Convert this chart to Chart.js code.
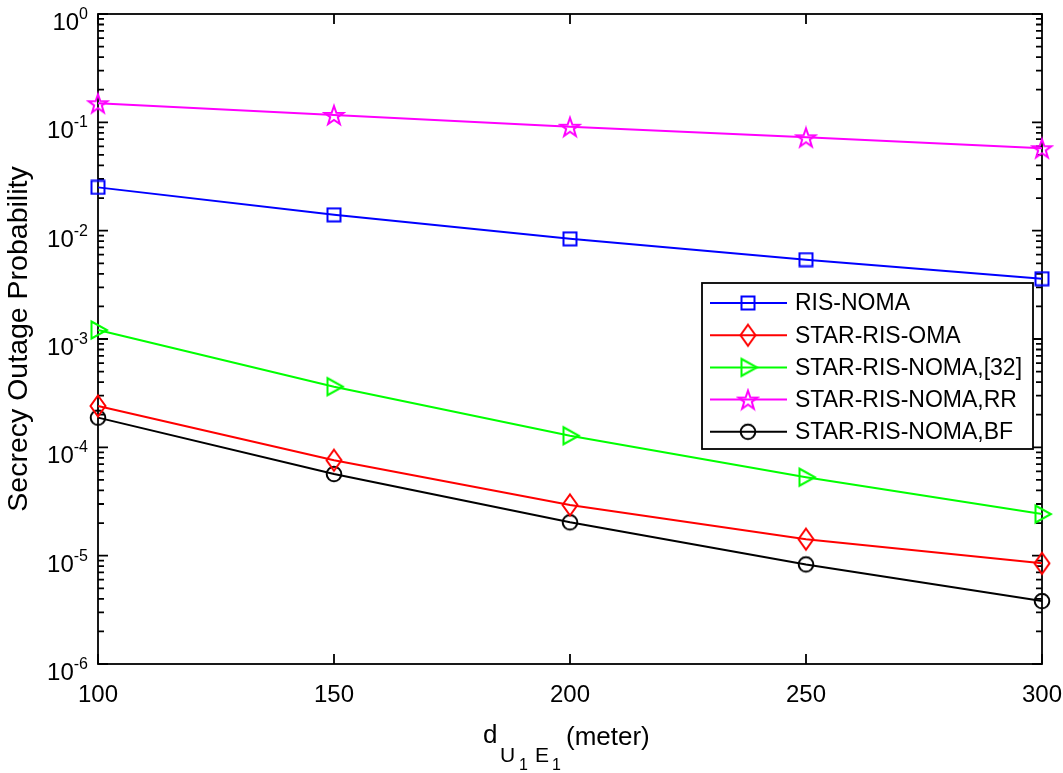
<!DOCTYPE html>
<html>
<head>
<meta charset="utf-8">
<script src="https://cdn.jsdelivr.net/npm/chart.js@4/dist/chart.umd.min.js"></script>
<style>
  html, body { margin: 0; padding: 0; background: #fff; }
  #wrap { width: 1063px; height: 773px; position: relative; }
</style>
</head>
<body>
<div id="wrap"><canvas id="chart" width="1063" height="773"></canvas></div>
<script>
// Данные
const distances = [100, 150, 200, 250, 300];
const risNoma = [0.0251, 0.0140, 0.0084, 0.0054, 0.0036];
const starRisOma = [2.41e-4, 7.6e-5, 2.94e-5, 1.42e-5, 8.5e-6];
const starRisNoma32 = [1.21e-3, 3.63e-4, 1.28e-4, 5.3e-5, 2.42e-5];
const starRisNomaRR = [0.150, 0.117, 0.091, 0.0727, 0.0576];
const starRisNomaBF = [1.88e-4, 5.67e-5, 2.03e-5, 8.3e-6, 3.81e-6];

const seriesNames = ['RIS-NOMA', 'STAR-RIS-OMA', 'STAR-RIS-NOMA,[32]', 'STAR-RIS-NOMA,RR', 'STAR-RIS-NOMA,BF'];
const xTicks = [100, 150, 200, 250, 300];
const yExponents = [0, -1, -2, -3, -4, -5, -6];

const FONT = '"Liberation Sans", Arial, Helvetica, sans-serif';

// Маркеры в стиле MATLAB
function makeMarker(color, w, h, draw) {
    const c = document.createElement('canvas');
    c.width = w; c.height = h;
    const g = c.getContext('2d');
    g.strokeStyle = color;
    g.lineWidth = 2;
    g.lineJoin = 'miter';
    g.beginPath();
    draw(g, w / 2, h / 2);
    g.closePath();
    g.stroke();
    return c;
}

const squareMarker = makeMarker('#0000ff', 16, 16, (g, cx, cy) => {
    g.rect(cx - 6.5, cy - 6.5, 13, 13);
});
const diamondMarker = makeMarker('#ff0000', 20, 26, (g, cx, cy) => {
    g.moveTo(cx, cy - 10.5);
    g.lineTo(cx + 7.5, cy);
    g.lineTo(cx, cy + 10.5);
    g.lineTo(cx - 7.5, cy);
});
const triangleMarker = makeMarker('#00ff00', 22, 22, (g, cx, cy) => {
    g.moveTo(cx - 6.5, cy - 8.5);
    g.lineTo(cx + 9, cy);
    g.lineTo(cx - 6.5, cy + 8.5);
});
const starMarker = makeMarker('#ff00ff', 24, 24, (g, cx, cy) => {
    const R = 10, r = 4;
    for (let i = 0; i < 10; i++) {
        const rad = i % 2 === 0 ? R : r;
        const a = -Math.PI / 2 + i * Math.PI / 5;
        const px = cx + rad * Math.cos(a);
        const py = cy + 1 + rad * Math.sin(a);
        if (i === 0) g.moveTo(px, py); else g.lineTo(px, py);
    }
});
const circleMarker = makeMarker('#000000', 20, 20, (g, cx, cy) => {
    g.arc(cx, cy, 7.3, 0, Math.PI * 2);
});

function toPoints(values) {
    return distances.map((d, i) => ({ x: d, y: values[i] }));
}

function makeDataset(label, values, color, marker) {
    return {
        label: label,
        data: toPoints(values),
        borderColor: color,
        backgroundColor: color,
        borderWidth: 2,
        pointStyle: marker,
        pointRadius: 8,
        tension: 0,
        clip: false
    };
}

const datasets = [
    makeDataset(seriesNames[0], risNoma, '#0000ff', squareMarker),
    makeDataset(seriesNames[1], starRisOma, '#ff0000', diamondMarker),
    makeDataset(seriesNames[2], starRisNoma32, '#00ff00', triangleMarker),
    makeDataset(seriesNames[3], starRisNomaRR, '#ff00ff', starMarker),
    makeDataset(seriesNames[4], starRisNomaBF, '#000000', circleMarker)
];

// Оси, засечки и подписи как в MATLAB
const axesPlugin = {
    id: 'matlabAxes',
    beforeDatasetsDraw(chart) {
        const { ctx, chartArea: a, scales } = chart;
        const xs = scales.x, ys = scales.y;
        ctx.save();
        ctx.strokeStyle = '#000';
        ctx.lineWidth = 1.8;

        // Засечки по X (снизу и сверху)
        ctx.beginPath();
        xTicks.forEach(t => {
            const px = xs.getPixelForValue(t);
            ctx.moveTo(px, a.bottom); ctx.lineTo(px, a.bottom - 10);
            ctx.moveTo(px, a.top); ctx.lineTo(px, a.top + 10);
        });
        // Засечки по Y (слева и справа)
        yExponents.forEach(e => {
            const py = ys.getPixelForValue(Math.pow(10, e));
            ctx.moveTo(a.left, py); ctx.lineTo(a.left + 10, py);
            ctx.moveTo(a.right, py); ctx.lineTo(a.right - 10, py);
            if (e > -6) {
                for (let m = 2; m <= 9; m++) {
                    const my = ys.getPixelForValue(m * Math.pow(10, e - 1));
                    ctx.moveTo(a.left, my); ctx.lineTo(a.left + 6, my);
                    ctx.moveTo(a.right, my); ctx.lineTo(a.right - 6, my);
                }
            }
        });
        ctx.stroke();

        // Рамка
        ctx.strokeRect(a.left, a.top, a.right - a.left, a.bottom - a.top);

        // Подписи X
        ctx.fillStyle = '#000';
        ctx.font = '24px ' + FONT;
        ctx.textAlign = 'center';
        ctx.textBaseline = 'alphabetic';
        xTicks.forEach(t => {
            ctx.fillText(String(t), xs.getPixelForValue(t), a.bottom + 38);
        });

        // Подписи Y: 10^e
        yExponents.forEach(e => {
            const py = ys.getPixelForValue(Math.pow(10, e));
            const exp = String(e);
            ctx.font = '16px ' + FONT;
            const w2 = ctx.measureText(exp).width;
            ctx.textAlign = 'left';
            ctx.fillText(exp, 88 - w2, py + 5);
            ctx.font = '24px ' + FONT;
            ctx.textAlign = 'right';
            ctx.fillText('10', 88 - w2, py + 16);
        });

        // Подпись оси Y
        ctx.save();
        ctx.translate(27, (a.top + a.bottom) / 2);
        ctx.rotate(-Math.PI / 2);
        ctx.textAlign = 'center';
        ctx.font = '28.5px ' + FONT;
        ctx.fillText('Secrecy Outage Probability', 0, 0);
        ctx.restore();

        // Подпись оси X: d_{U_1 E_1}(meter)
        const cx = (a.left + a.right) / 2;
        const parts = [
            { t: 'd', size: 26, dx: -87, y: 743 },
            { t: 'U', size: 21, dx: -70, y: 762 },
            { t: '1', size: 16, dx: -51, y: 770 },
            { t: 'E', size: 21, dx: -35, y: 762 },
            { t: '1', size: 16, dx: -18, y: 770 },
            { t: '(meter)', size: 26, dx: -4, y: 745 }
        ];
        ctx.textAlign = 'left';
        parts.forEach(p => {
            ctx.font = p.size + 'px ' + FONT;
            ctx.fillText(p.t, cx + p.dx, p.y);
        });
        ctx.restore();
    },
    afterDraw(chart) {
        // Легенда внутри области графика
        const { ctx } = chart;
        const box = { x: 702, y: 283, w: 331, h: 166 };
        ctx.save();
        ctx.fillStyle = '#fff';
        ctx.fillRect(box.x, box.y, box.w, box.h);
        ctx.strokeStyle = '#000';
        ctx.lineWidth = 1.8;
        ctx.strokeRect(box.x, box.y, box.w, box.h);
        ctx.font = '23px ' + FONT;
        ctx.textBaseline = 'middle';
        ctx.textAlign = 'left';
        chart.data.datasets.forEach((ds, i) => {
            const cy = box.y + 20 + i * 32.2;
            ctx.strokeStyle = ds.borderColor;
            ctx.lineWidth = 2;
            ctx.beginPath();
            ctx.moveTo(710, cy);
            ctx.lineTo(787, cy);
            ctx.stroke();
            const m = ds.pointStyle;
            ctx.drawImage(m, 748 - m.width / 2, cy - m.height / 2);
            ctx.fillStyle = '#000';
            ctx.fillText(ds.label, 795, cy + 1);
        });
        ctx.restore();
    }
};

new Chart(document.getElementById('chart'), {
    type: 'line',
    data: { datasets: datasets },
    options: {
        responsive: false,
        animation: false,
        layout: { padding: { left: 98, right: 21, top: 14, bottom: 109 } },
        plugins: { legend: { display: false }, tooltip: { enabled: false } },
        scales: {
            x: {
                type: 'linear',
                min: 100,
                max: 300,
                ticks: { display: false },
                grid: { display: false, drawTicks: false },
                border: { display: false },
                afterFit(scale) { scale.height = 0; }
            },
            y: {
                type: 'logarithmic',
                min: 1e-6,
                max: 1,
                ticks: { display: false },
                grid: { display: false, drawTicks: false },
                border: { display: false },
                afterFit(scale) { scale.width = 0; }
            }
        }
    },
    plugins: [axesPlugin]
});
</script>
</body>
</html>
